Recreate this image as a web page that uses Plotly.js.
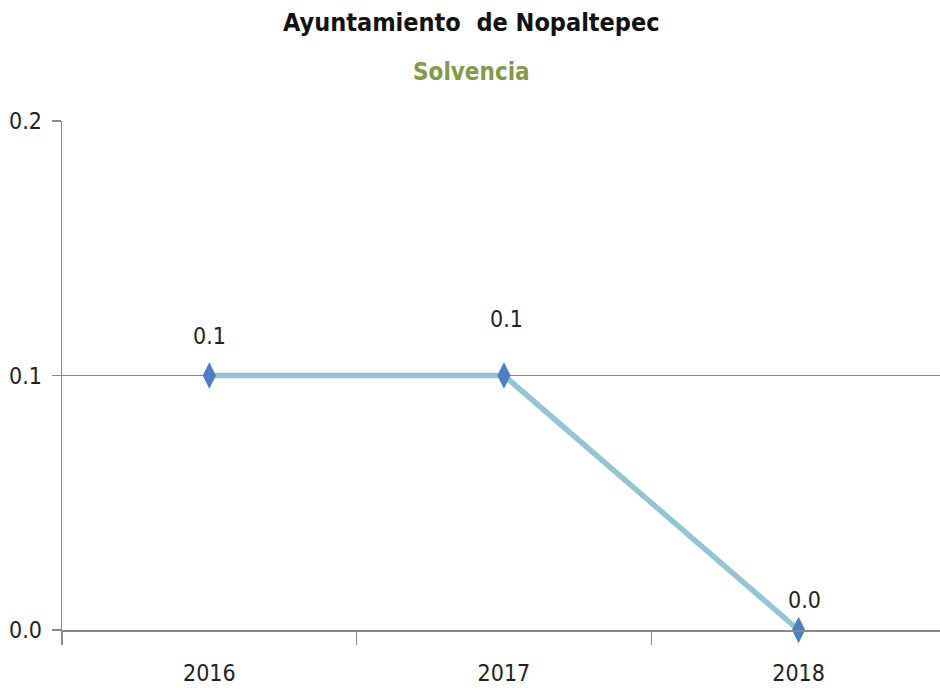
<!DOCTYPE html>
<html>
<head>
<meta charset="utf-8">
<script src="https://cdn.plot.ly/plotly-3.0.1.min.js"></script>
<style>html,body{margin:0;padding:0;background:#fff;}#chart{width:940px;height:690px;}</style>
</head>
<body>
<div id="chart"></div>
<script>
const years = ['2016', '2017', '2018'];
const solvencia = [0.1, 0.1, 0.0];
const labels = ['0.1', '0.1', '0.0'];
const yTicks = [0, 0.1, 0.2];
const yTickText = ['0.0', '0.1', '0.2'];

const FONT = '"DejaVu Sans Condensed", "Liberation Sans Narrow", sans-serif';
const labelShift = [40, 57, 30];
const labelXShift = [0, 3, 6];

const trace = {
  type: 'scatter',
  mode: 'lines+markers',
  x: years,
  y: solvencia,
  line: {color: '#93c5d5', width: 5.5},
  marker: {symbol: 'diamond-tall', size: 19, color: '#4a7fc1', line: {width: 0}},
  hoverinfo: 'x+y',
  cliponaxis: false
};

const annotations = years.map((yr, i) => ({
  x: i, y: solvencia[i], xref: 'x', yref: 'y',
  text: labels[i], showarrow: false,
  yanchor: 'middle', xanchor: 'center',
  yshift: labelShift[i], xshift: labelXShift[i],
  font: {family: FONT, size: 23, color: '#222'}
}));

annotations.push({
  xref: 'paper', yref: 'paper', x: 0.466, y: 1, yanchor: 'middle',
  xanchor: 'center', yshift: 99,
  text: '<b>Ayuntamiento  de Nopaltepec</b>', showarrow: false,
  font: {family: FONT, size: 25, color: '#111'}
});
annotations.push({
  xref: 'paper', yref: 'paper', x: 0.466, y: 1, yanchor: 'middle',
  xanchor: 'center', yshift: 49,
  text: '<b>Solvencia</b>', showarrow: false,
  font: {family: FONT, size: 24, color: '#7f9a48'}
});

const layout = {
  width: 940, height: 690,
  margin: {l: 62, r: 0, t: 121, b: 60},
  paper_bgcolor: '#fff', plot_bgcolor: '#fff',
  showlegend: false,
  font: {family: FONT, size: 23, color: '#222'},
  xaxis: {
    type: 'category',
    range: [-0.5, 2.48],
    tickson: 'boundaries',
    ticks: 'outside', ticklen: 13, tickcolor: '#8a8a8a', tickwidth: 1.5,
    showline: true, linecolor: '#8a8a8a', linewidth: 2,
    showgrid: false, zeroline: false,
    tickfont: {family: FONT, size: 23, color: '#222'},
    ticklabelstandoff: 21
  },
  yaxis: {
    range: [0, 0.2],
    tickvals: yTicks, ticktext: yTickText,
    ticks: 'outside', ticklen: 9, tickcolor: '#8a8a8a', tickwidth: 1.5,
    showline: true, linecolor: '#8a8a8a', linewidth: 1.5,
    showgrid: true, gridcolor: '#8a8a8a', gridwidth: 1.5,
    zeroline: false,
    tickfont: {family: FONT, size: 23, color: '#222'},
    ticklabelstandoff: 5
  },
  annotations: annotations
};

Plotly.newPlot('chart', [trace], layout, {displayModeBar: false, staticPlot: true});
</script>
</body>
</html>
